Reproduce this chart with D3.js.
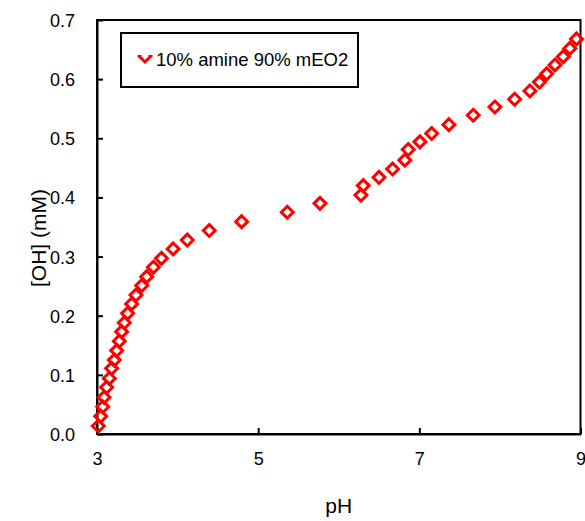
<!DOCTYPE html>
<html>
<head>
<meta charset="utf-8">
<script src="https://cdn.jsdelivr.net/npm/d3@7"></script>
<style>
  html, body { margin: 0; padding: 0; background: #fff; }
  text { font-family: "Liberation Sans", Arial, sans-serif; fill: #000; }
</style>
</head>
<body>
<svg id="chart" width="585" height="521"></svg>
<script>
// Titration: pH versus hydroxide added
const seriesName = "10% amine 90% mEO2";
const pH = [3.016, 3.046, 3.071, 3.087, 3.12, 3.153, 3.182, 3.215, 3.244, 3.277,
            3.306, 3.339, 3.38, 3.43, 3.484, 3.555, 3.617, 3.70, 3.80, 3.945,
            4.12, 4.393, 4.795, 5.361, 5.767, 6.276, 6.305, 6.50, 6.668, 6.82,
            6.862, 7.007, 7.153, 7.367, 7.669, 7.938, 8.183, 8.372, 8.49, 8.58,
            8.683, 8.786, 8.868, 8.95];
const OH = [0.0135, 0.030, 0.046, 0.062, 0.079, 0.094, 0.111, 0.125, 0.141, 0.157,
            0.173, 0.188, 0.204, 0.220, 0.235, 0.251, 0.266, 0.282, 0.297, 0.313,
            0.328, 0.344, 0.359, 0.375, 0.390, 0.404, 0.420, 0.434, 0.448, 0.463,
            0.481, 0.494, 0.508, 0.523, 0.539, 0.553, 0.566, 0.580, 0.595, 0.609,
            0.624, 0.638, 0.652, 0.668];
const xTicks = [3, 5, 7, 9];
const yTicks = [0, 0.1, 0.2, 0.3, 0.4, 0.5, 0.6, 0.7];

const svg = d3.select("#chart");
const plotLeft = 97, plotRight = 580.5, plotTop = 20, plotBottom = 434;

const x = d3.scaleLinear().domain([3, 9]).range([plotLeft, plotRight]);
const y = d3.scaleLinear().domain([0, 0.7]).range([plotBottom, plotTop]);

const red = "#ff0000";

// Frame
svg.append("rect")
  .attr("x", plotLeft).attr("y", plotTop)
  .attr("width", plotRight - plotLeft).attr("height", plotBottom - plotTop)
  .attr("fill", "none").attr("stroke", "#000").attr("stroke-width", 2);

// Axes with inward ticks
const xAxis = svg.append("g").attr("transform", `translate(0,${plotBottom})`)
  .call(d3.axisBottom(x).tickValues(xTicks).tickSizeInner(-6).tickSizeOuter(0).tickPadding(18)
        .tickFormat(d3.format("d")));
const yAxis = svg.append("g").attr("transform", `translate(${plotLeft},0)`)
  .call(d3.axisLeft(y).tickValues(yTicks).tickSizeInner(-6).tickSizeOuter(0).tickPadding(22)
        .tickFormat(d3.format(".1f")));
[xAxis, yAxis].forEach(g => {
  g.select(".domain").attr("stroke", "#000").attr("stroke-width", 2);
  g.selectAll(".tick line").attr("stroke", "#000").attr("stroke-width", 2);
  g.selectAll(".tick text").attr("font-size", 18).attr("font-family", "Liberation Sans, Arial, sans-serif");
});
xAxis.selectAll(".tick text").attr("dy", "0.71em");
yAxis.selectAll(".tick text").attr("dy", "0.36em");

// Axis titles
svg.append("text").attr("x", (plotLeft + plotRight) / 2).attr("y", 513)
  .attr("text-anchor", "middle").attr("font-size", 21).text("pH");
svg.append("text")
  .attr("transform", `translate(46,238) rotate(-90)`)
  .attr("text-anchor", "middle").attr("font-size", 21).text("[OH] (mM)");

// Markers
const diamond = d3.symbol().type(d3.symbolDiamond2).size(90);
svg.append("g").selectAll("path")
  .data(pH.map((p, i) => [p, OH[i]]))
  .join("path")
  .attr("d", diamond)
  .attr("transform", d => `translate(${x(d[0])},${y(d[1])})`)
  .attr("fill", "none").attr("stroke", red).attr("stroke-width", 3);

// Legend (marker shows only its lower half)
const lg = svg.append("g");
lg.append("rect").attr("x", 121).attr("y", 33).attr("width", 237).attr("height", 54)
  .attr("fill", "#fff").attr("stroke", "#000").attr("stroke-width", 2);
lg.append("clipPath").attr("id", "legclip")
  .append("rect").attr("x", -15).attr("y", -1).attr("width", 30).attr("height", 20);
lg.append("path").attr("d", diamond)
  .attr("transform", "translate(145,56)")
  .attr("clip-path", "url(#legclip)")
  .attr("fill", "none").attr("stroke", red).attr("stroke-width", 3);
lg.append("text").attr("x", 156).attr("y", 66).attr("font-size", 18.5).text(seriesName);
</script>
</body>
</html>
